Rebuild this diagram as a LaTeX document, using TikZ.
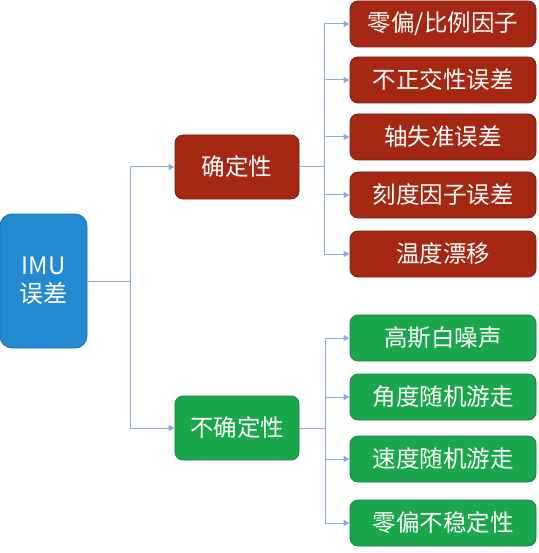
\documentclass[tikz,border=0pt]{standalone}
\usepackage{fontspec}
\setmainfont{Liberation Sans}
\newfontfamily\cjk{Noto Sans CJK SC}
\usetikzlibrary{arrows.meta}
\definecolor{redbox}{RGB}{165,40,18}
\definecolor{redline}{RGB}{120,30,20}
\definecolor{greenbox}{RGB}{26,166,74}
\definecolor{greenline}{RGB}{20,130,60}
\definecolor{bluebox}{RGB}{35,137,208}
\definecolor{blueline}{RGB}{30,110,170}
\definecolor{conn}{RGB}{143,170,220}
\tikzset{
  base/.style={rounded corners=8pt, text=white, font=\cjk\fontsize{23.5}{28}\selectfont, align=center, inner sep=0pt, line width=0.8pt},
  redn/.style={base, fill=redbox, draw=redline},
  greenn/.style={base, fill=greenbox, draw=greenline},
  leaf/.style={minimum width=186pt, minimum height=46pt},
  mid/.style={minimum width=124pt, minimum height=64pt},
  link/.style={draw=conn, line width=1pt, -{Triangle[length=6pt,width=6pt]}},
  plain/.style={draw=conn, line width=1pt}
}
\begin{document}
\begin{tikzpicture}[x=1pt,y=-1pt]
\useasboundingbox (0,0) rectangle (538,553);
\node[base, fill=bluebox, draw=blueline, rounded corners=12pt, minimum width=87pt, minimum height=134pt, font=\cjk\fontsize{24}{28}\selectfont] (imu) at (43.5,281) {IMU\\误差};
\node[redn, mid] (det) at (237,167) {确定性};
\node[greenn, mid] (undet) at (237,428) {不确定性};
\node[redn, leaf] (r1) at (443,24) {零偏/比例因子};
\node[redn, leaf] (r2) at (443,80) {不正交性误差};
\node[redn, leaf] (r3) at (443,137) {轴失准误差};
\node[redn, leaf] (r4) at (443,195) {刻度因子误差};
\node[redn, leaf] (r5) at (443,254) {温度漂移};
\node[greenn, leaf] (g1) at (443,338) {高斯白噪声};
\node[greenn, leaf] (g2) at (443,397) {角度随机游走};
\node[greenn, leaf] (g3) at (443,459) {速度随机游走};
\node[greenn, leaf] (g4) at (443,523) {零偏不稳定性};
\coordinate (jl) at (130,281);
\coordinate (jr) at (324,167);
\coordinate (jg) at (325,428);
\draw[plain] (imu.east |- jl) -- (jl);
\draw[link] (jl) |- (det.west);
\draw[link] (jl) |- (undet.west);
\draw[plain] (det.east) -- (jr);
\foreach \n in {r1,r2,r3,r4,r5} \draw[link] (jr) |- (\n.west);
\draw[plain] (undet.east) -- (jg);
\foreach \n in {g1,g2,g3,g4} \draw[link] (jg) |- (\n.west);
\end{tikzpicture}
\end{document}
